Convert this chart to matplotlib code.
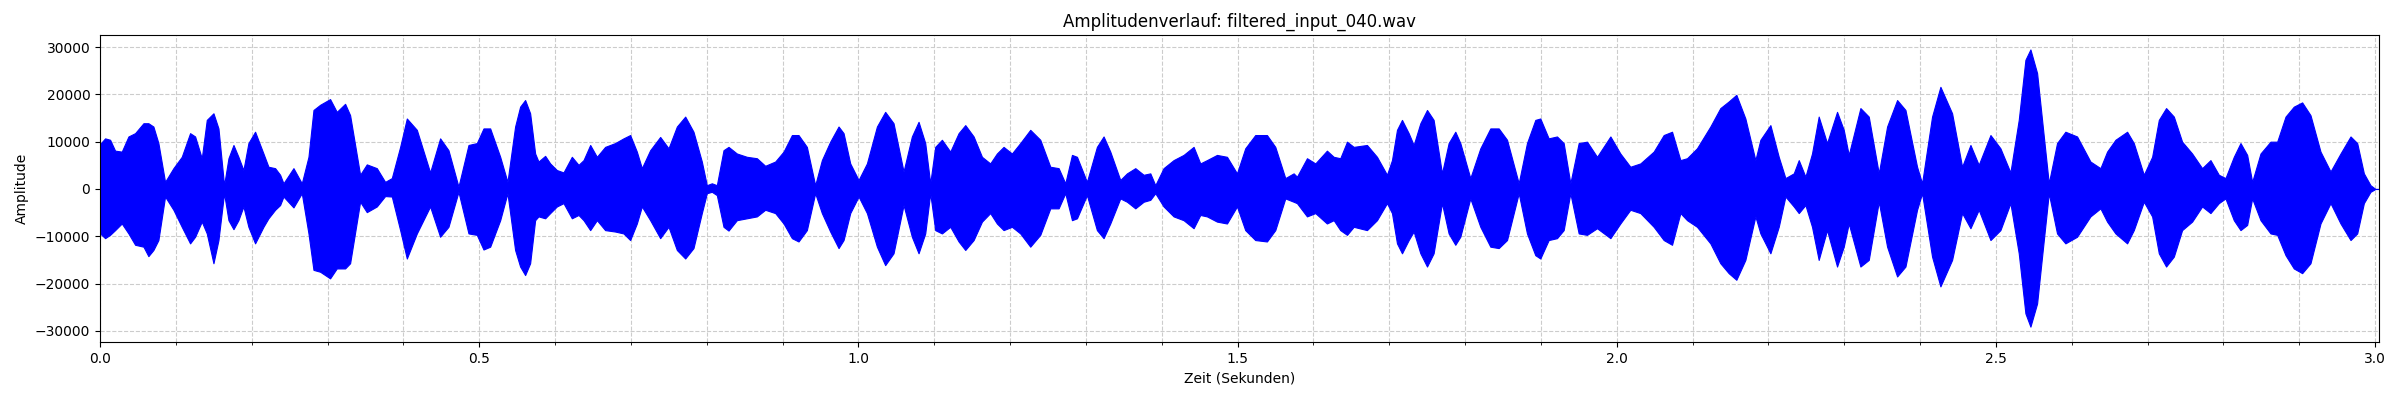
import matplotlib
matplotlib.use('Agg')
import matplotlib.pyplot as plt
from matplotlib.ticker import MultipleLocator

dateiname = 'filtered_input_040.wav'

# Huellkurve des Signals: Zeit in s, obere / untere Amplitude
zeit = [
    0.0000, 0.0066, 0.0132, 0.0198, 0.0286, 0.0374, 0.0462, 0.0572, 0.0637, 0.0703,
    0.0769, 0.0857, 0.0967, 0.1077, 0.1187, 0.1253, 0.1341, 0.1407, 0.1495, 0.1561,
    0.1635, 0.1693, 0.1759, 0.1824, 0.1890, 0.1956, 0.2044, 0.2154, 0.2220, 0.2308,
    0.2374, 0.2418, 0.2550, 0.2660, 0.2748, 0.2814, 0.2902, 0.3033, 0.3121, 0.3231,
    0.3297, 0.3429, 0.3517, 0.3649, 0.3759, 0.3847, 0.3957, 0.4045, 0.4177, 0.4352,
    0.4484, 0.4594, 0.4726, 0.4858, 0.4968, 0.5056, 0.5144,
    0.5276, 0.5372, 0.5473, 0.5539, 0.5605, 0.5671, 0.5737, 0.5781, 0.5869, 0.5935,
    0.6023, 0.6111, 0.6221, 0.6309, 0.6375, 0.6463, 0.6551, 0.6660, 0.6792, 0.6902,
    0.6990, 0.7078, 0.7144, 0.7254, 0.7386, 0.7496, 0.7606, 0.7716, 0.7825, 0.7935,
    0.8001, 0.8067, 0.8133, 0.8221, 0.8287, 0.8397, 0.8529, 0.8661, 0.8771, 0.8903,
    0.9013, 0.9123, 0.9210, 0.9320, 0.9430, 0.9518, 0.9628, 0.9738, 0.9804, 0.9892,
    1.0002, 1.0112, 1.0244, 1.0353, 1.0463,
    1.0595, 1.0705, 1.0793, 1.0881, 1.0947, 1.1013, 1.1101, 1.1211, 1.1321, 1.1409,
    1.1519, 1.1629, 1.1738, 1.1826, 1.1914, 1.2024, 1.2134, 1.2266, 1.2398, 1.2530,
    1.2640, 1.2728, 1.2816, 1.2882, 1.3013, 1.3145, 1.3233, 1.3321, 1.3453, 1.3541,
    1.3651, 1.3761, 1.3849, 1.3915, 1.4024, 1.4156, 1.4288, 1.4420, 1.4508, 1.4596,
    1.4728, 1.4860, 1.4992, 1.5101, 1.5233, 1.5387, 1.5497, 1.5629, 1.5739,
    1.5783, 1.5915, 1.6025, 1.6178, 1.6267, 1.6354, 1.6443, 1.6531, 1.6706, 1.6838,
    1.6970, 1.7036, 1.7102, 1.7168, 1.7256, 1.7322, 1.7410, 1.7498, 1.7585, 1.7695,
    1.7783, 1.7871, 1.7937, 1.8069, 1.8201, 1.8333, 1.8443, 1.8553, 1.8707, 1.8816,
    1.8926, 1.8992, 1.9102, 1.9212, 1.9300, 1.9388, 1.9498, 1.9608, 1.9740, 1.9916,
    2.0047, 2.0179, 2.0311, 2.0487, 2.0619, 2.0729, 2.0839, 2.0927, 2.1058,
    2.1234, 2.1366, 2.1476, 2.1577, 2.1696, 2.1828, 2.1894, 2.2026, 2.2136, 2.2224,
    2.2334, 2.2400, 2.2488, 2.2575, 2.2663, 2.2773, 2.2905, 2.2993, 2.3059, 2.3213,
    2.3323, 2.3455, 2.3565, 2.3697, 2.3807, 2.3960, 2.4026, 2.4158, 2.4268, 2.4422,
    2.4554, 2.4664, 2.4773, 2.4928, 2.5059, 2.5191, 2.5301, 2.5389, 2.5455, 2.5543,
    2.5697, 2.5806, 2.5916, 2.6070, 2.6246, 2.6378,
    2.6466, 2.6576, 2.6730, 2.6818, 2.6950, 2.7060, 2.7148, 2.7244, 2.7346, 2.7455,
    2.7587, 2.7719, 2.7829, 2.7939, 2.8027, 2.8137, 2.8225, 2.8313, 2.8379, 2.8489,
    2.8621, 2.8709, 2.8819, 2.8928, 2.9038, 2.9148, 2.9280, 2.9412, 2.9544, 2.9676,
    2.9764, 2.9852, 2.9939, 3.0005, 3.0050,
]

oben = [
    9500, 10700, 10400, 8100, 7900, 11100, 11800, 13900, 13900, 13200,
    9700, 1500, 4400, 6800, 11800, 11100, 6500, 14600, 16000, 12800,
    800, 6500, 9300, 6800, 4000, 9700, 12100, 7500, 4700, 4400,
    3000, 1200, 4400, 1200, 6800, 16700, 17800, 19000, 16300, 18000,
    15600, 3000, 5200, 4400, 1500, 2300, 8900, 14900, 12500, 3500,
    10700, 8200, 500, 9300, 9700, 12800, 12800,
    6800, 1500, 13200, 17400, 18800, 16000, 7500, 5800, 7000, 5400,
    4000, 3500, 6800, 5100, 6100, 9300, 6800, 8900, 9700, 10700,
    11400, 7900, 4400, 8200, 11000, 8600, 13200, 15300, 12100, 5800,
    800, 1200, 800, 8200, 8900, 7500, 6800, 6500, 4900, 5800,
    7900, 11400, 11400, 8900, 800, 6100, 10000, 13200, 11800, 5400,
    1900, 5400, 13200, 16300, 13900,
    3700, 11100, 14200, 9700, 1200, 8900, 10400, 7900, 11800, 13500,
    11100, 6800, 5400, 7500, 8900, 7500, 9700, 12500, 10400, 4700,
    4400, 1200, 7200, 6800, 1500, 8900, 11100, 7900, 1900, 3300,
    4400, 3000, 3300, 800, 4400, 6100, 7200, 8900, 5400, 6100,
    7200, 6800, 3300, 8600, 11400, 11400, 8900, 2300, 3300,
    2600, 6500, 5400, 8100, 6800, 6500, 10000, 8900, 9300, 6800,
    3000, 6100, 12500, 14600, 11800, 9300, 13900, 16700, 14600, 3300,
    9700, 12100, 9700, 2300, 8600, 12800, 12800, 10400, 1200, 9700,
    14600, 14900, 10700, 11100, 9700, 1200, 9700, 10000, 6800, 11100,
    7500, 4700, 5400, 7900, 11400, 12100, 6100, 6500, 8600,
    13200, 17100, 18500, 19900, 14900, 6100, 10400, 13500, 6800, 2300,
    3300, 6100, 2600, 7500, 15300, 9700, 16300, 12500, 7200, 17100,
    15300, 3300, 13200, 18800, 16700, 4700, 1200, 15300, 21600, 16000,
    4700, 9300, 5100, 11400, 8600, 3500, 14600, 27300, 29500, 24500,
    1200, 9700, 12100, 11100, 5800, 4400,
    7900, 10400, 12100, 9700, 3000, 6800, 14600, 17100, 15300, 10000,
    7500, 4400, 6100, 3000, 2300, 6800, 9700, 7200, 1500, 7500,
    10000, 10000, 15300, 17400, 18300, 15600, 7900, 3700, 7500, 11100,
    9700, 3300, 800, 0, 0,
]

unten = [
    -9400, -10400, -9700, -8700, -7300, -9400, -11800, -12200, -14200, -12900,
    -10800, -1600, -4400, -8000, -11500, -10100, -6900, -9400, -15700, -10800,
    -900, -6600, -8500, -6600, -3700, -8000, -11500, -8000, -6200, -4400,
    -3400, -1600, -3900, -900, -9400, -17100, -17500, -18900, -16800, -16800,
    -15700, -2700, -4900, -3700, -1500, -1600, -8700, -14700, -9400, -3700,
    -10100, -8000, -600, -9400, -9700, -12800, -12200,
    -6600, -900, -12900, -16400, -18200, -15700, -6600, -5800, -6200, -5100,
    -3700, -3000, -6200, -5500, -6600, -8700, -6600, -8700, -9000, -9400,
    -10800, -7300, -3700, -6600, -10400, -8000, -12900, -14700, -12500, -5100,
    -900, -600, -1300, -8000, -8800, -6600, -6200, -5800, -4400, -5100,
    -7300, -10400, -11100, -8700, -900, -5100, -9000, -12500, -10800, -5100,
    -1600, -5100, -12200, -16100, -13600,
    -3400, -10100, -13600, -9400, -900, -8700, -9400, -8000, -11100, -12900,
    -10800, -6900, -5100, -7300, -8700, -8000, -9400, -12200, -9700, -4100,
    -4100, -900, -6600, -6200, -1300, -8700, -10400, -7300, -2000, -2700,
    -4100, -2700, -2300, -900, -3700, -5800, -6600, -8300, -5500, -5800,
    -6900, -7300, -3700, -8700, -10800, -11100, -8700, -2000, -2700,
    -3000, -5800, -5100, -7300, -6600, -8700, -9700, -8000, -8700, -6600,
    -3000, -5100, -11500, -13600, -10800, -9000, -13600, -16400, -13600, -3000,
    -9400, -11800, -10100, -2000, -8000, -12200, -12500, -10800, -900, -9400,
    -14000, -14700, -10800, -10400, -8700, -900, -9400, -9700, -8300, -10400,
    -7300, -4400, -5100, -8000, -10800, -11800, -5100, -6600, -8000,
    -11500, -15700, -17800, -19200, -15000, -5800, -9400, -13600, -8000, -1600,
    -3700, -5100, -3400, -8000, -15000, -8700, -16400, -12200, -7300, -16400,
    -15000, -2700, -12200, -18500, -16400, -4400, -900, -14300, -20600, -15000,
    -5100, -8300, -4400, -10800, -8700, -3000, -13600, -26300, -29100, -24200,
    -900, -9400, -11500, -10100, -5800, -4100,
    -6900, -9400, -11500, -8700, -2700, -5800, -13600, -16400, -14300, -8700,
    -6900, -3700, -5100, -3000, -2000, -6600, -8700, -7600, -2000, -6600,
    -9400, -9700, -14000, -16800, -17800, -15700, -7300, -3000, -7300, -10800,
    -9400, -3000, -600, 0, 0,
]

fig, ax = plt.subplots(figsize=(24, 4), dpi=100)
ax.fill_between(zeit, unten, oben, color='blue', linewidth=0.8, zorder=2)

ax.set_title(f'Amplitudenverlauf: {dateiname}')
ax.set_xlabel('Zeit (Sekunden)')
ax.set_ylabel('Amplitude')
ax.set_xlim(0, zeit[-1])
ax.set_ylim(-32350, 32550)
ax.xaxis.set_minor_locator(MultipleLocator(0.1))
ax.set_axisbelow(True)
ax.grid(True, which='both', linestyle='--', color='#cccccc')

plt.subplots_adjust(left=0.0417, right=0.9912, top=0.9125, bottom=0.145)
plt.savefig('out.png')
